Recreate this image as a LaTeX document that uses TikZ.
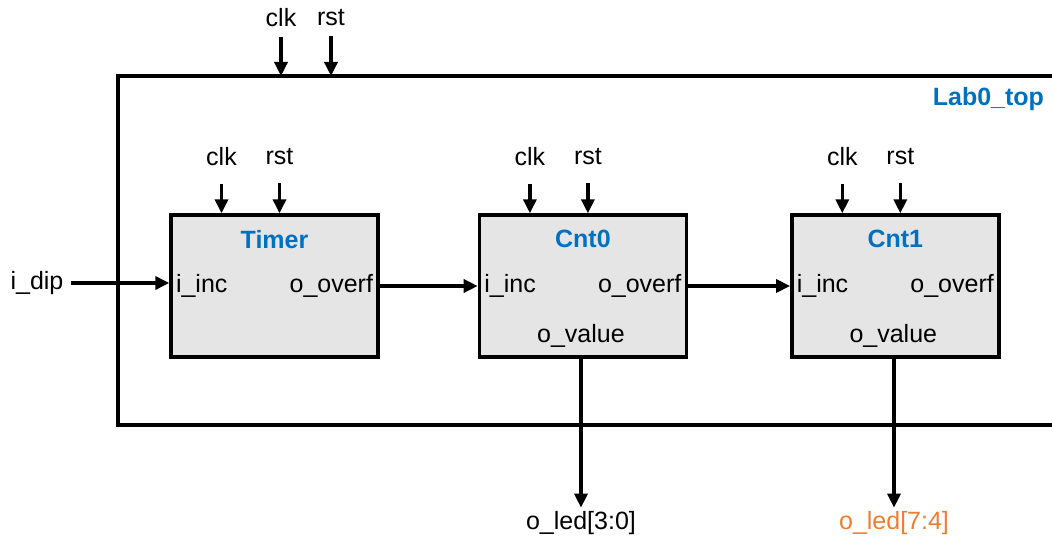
\documentclass[tikz,border=0pt]{standalone}
\usepackage{fontspec}
\setmainfont{Liberation Sans}
\usetikzlibrary{arrows.meta,positioning}
\definecolor{labblue}{RGB}{0,112,192}
\definecolor{laborange}{RGB}{237,125,49}

\begin{document}
\begin{tikzpicture}[x=1pt,y=-1pt,>={Triangle[length=14pt,width=13pt]},
  line width=3.4pt,font=\fontsize{25}{29}\selectfont,
  block/.style={draw,fill=black!10,minimum width=207pt,minimum height=142pt,inner sep=0pt},
  title/.style={font=\fontsize{25}{29}\selectfont\bfseries,text=labblue},
  sig/.style={inner sep=2pt}]

  \useasboundingbox (0,0) rectangle (1052,537);

  % top level
  \coordinate (lab0-top) at (118,76);
  \draw (1060,76) -| (118,425) -- (1060,425);
  \node[title,anchor=east] (lab0-name) at (1049,99) {Lab0\_top};
  \node[sig] (clk) at (281,18) {clk};
  \node[sig] (rst) at (331,18) {rst};
  \draw[->,shorten <=6pt] (clk.south) -- (clk.south |- lab0-top);
  \draw[->,shorten <=6pt] (rst.south) -- (rst.south |- lab0-top);

  % blocks
  \node[block] (timer) at (274.5,286) {};
  \node[block] (cnt0) [right=98pt of timer] {};
  \node[block] (cnt1) [right=102pt of cnt0] {};

  \node[title] (timer-name) at ([yshift=-26pt]timer.north) {Timer};
  \node[title] (cnt0-name) at ([yshift=-26pt]cnt0.north) {Cnt0};
  \node[title] (cnt1-name) at ([yshift=-26pt]cnt1.north) {Cnt1};

  \foreach \b in {timer,cnt0,cnt1} {
    \node[sig,anchor=west] (\b-inc) at ([xshift=3pt]\b.west) {i\_inc};
    \node[sig,anchor=east] (\b-ovf) at ([xshift=-3pt]\b.east) {o\_overf};
    \node[sig] (\b-clk) at ([xshift=-53pt,yshift=57pt]\b.north) {clk};
    \node[sig] (\b-rst) at ([xshift=5pt,yshift=57pt]\b.north) {rst};
    \draw[->,shorten <=15pt] (\b-clk.south) -- (\b-clk.south |- \b.north);
    \draw[->,shorten <=15pt] (\b-rst.south) -- (\b-rst.south |- \b.north);
  }
  \node[sig] (cnt0-val) at ([xshift=-2pt,yshift=23pt]cnt0.south) {o\_value};
  \node[sig] (cnt1-val) at ([xshift=-2pt,yshift=23pt]cnt1.south) {o\_value};

  % signals
  \node[sig] (idip) at (37,283) {i\_dip};
  \node[sig] (led0) at (581,523) {o\_led[3:0]};
  \node[sig,text=laborange] (led1) at (894,523) {o\_led[7:4]};

  \draw[->,shorten <=4pt] (idip.east) -- (idip.east -| timer.west);
  \draw[->] (timer.east) -- (cnt0.west);
  \draw[->] (cnt0.east) -- (cnt1.west);
  \draw[->] (cnt0.south -| led0.north) -- (led0.north);
  \draw[->] (cnt1.south -| led1.north) -- (led1.north);

\end{tikzpicture}
\end{document}
